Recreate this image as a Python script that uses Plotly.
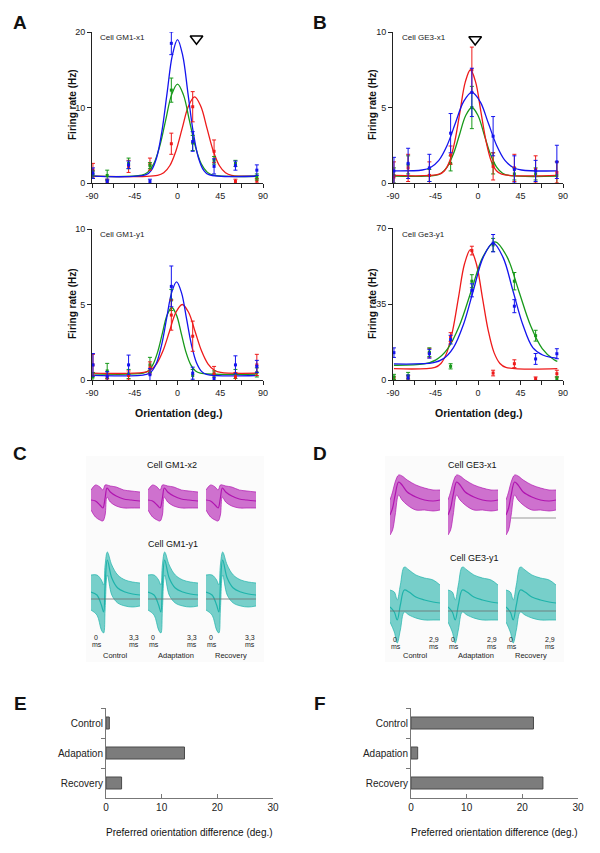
import plotly.graph_objects as go

# the page body keeps an 8 px margin, so the figure is drawn 8 px smaller
OFFSET = 8
W, H = 600 - OFFSET, 853 - OFFSET
FONT = "Liberation Sans, Arial, Helvetica, sans-serif"

BLUE = "#1414ee"
GREEN = "#17991a"
RED = "#ee1a1a"
MAGENTA = "#b015b0"
TEAL = "#1fb3aa"

# ---- orientation tuning: data points (deg., Hz) ----
ORIENT = [-89, -74, -51.5, -29, -6.5, 16, 38.5, 61, 83.5]
ORIENT_TICKS = [-90, -45, 0, 45, 90]

# Cell GM1-x1
gm1x1_blue = [1.3, 0.2, 2.4, 0.2, 18.5, 5.5, 2.2, 2.3, 1.7]
gm1x1_blue_err = [0.7, 0.3, 0.5, 0.3, 1.5, 1.3, 1.0, 0.6, 0.7]
gm1x1_green = [1.1, 1.0, 2.6, 2.3, 12.3, 5.3, 3.0, 2.6, 0.8]
gm1x1_green_err = [0.5, 0.7, 0.7, 0.4, 1.6, 1.0, 0.5, 0.4, 0.4]
gm1x1_red = [1.7, 0.2, 2.2, 2.5, 5.2, 10.1, 4.2, 0.2, 0.3]
gm1x1_red_err = [0.9, 0.3, 0.8, 0.8, 1.4, 2.0, 1.5, 0.3, 0.3]

# Cell GM1-y1
gm1y1_blue = [1.0, 0.25, 1.0, 0.35, 6.2, 0.45, 0.1, 1.0, 0.9]
gm1y1_blue_err = [0.75, 0.3, 0.65, 0.4, 1.35, 0.4, 0.2, 0.6, 0.4]
gm1y1_green = [0.2, 0.6, 0.4, 1.0, 5.3, 0.3, 0.4, 0.4, 0.5]
gm1y1_green_err = [0.3, 0.5, 0.3, 0.5, 0.7, 0.4, 0.2, 0.3, 0.3]
gm1y1_red = [1.0, 0.2, 0.3, 0.8, 4.3, 2.9, 0.4, 0.2, 1.0]
gm1y1_red_err = [0.7, 0.2, 0.3, 0.4, 1.0, 1.0, 0.5, 0.3, 0.7]

# Cell GE3-x1
ge3x1_blue = [0.8, 1.3, 1.0, 3.3, 6.0, 3.1, 0.9, 0.8, 1.4]
ge3x1_blue_err = [0.9, 1.0, 0.9, 1.3, 1.6, 1.3, 0.9, 0.7, 1.1]
ge3x1_green = [0.5, 1.2, 0.5, 1.3, 5.0, 1.3, 0.6, 0.6, 0.5]
ge3x1_green_err = [0.5, 0.6, 0.4, 0.5, 1.4, 0.7, 0.4, 0.4, 0.9]
ge3x1_red = [0.4, 1.0, 0.5, 1.85, 7.5, 1.1, 1.0, 0.9, 0.7]
ge3x1_red_err = [1.0, 0.9, 0.9, 0.6, 1.5, 0.9, 0.9, 0.9, 0.7]

# Cell Ge3-y1
ge3y1_blue = [12.6, 1.0, 12.1, 18.6, 41.3, 63.0, 34.0, 9.7, 12.1]
ge3y1_blue_err = [2.2, 1.3, 2.0, 2.0, 3.0, 4.0, 3.0, 2.5, 2.3]
ge3y1_green = [1.4, 2.0, 12.8, 6.3, 45.5, 62.2, 45.5, 20.4, 0.5]
ge3y1_green_err = [1.2, 1.5, 2.0, 1.2, 3.0, 3.0, 4.0, 2.5, 1.0]
ge3y1_red = [0.5, 1.0, 12.4, 19.8, 59.6, 3.2, 7.5, 0.6, 2.9]
ge3y1_red_err = [1.0, 1.0, 2.2, 2.0, 2.0, 1.3, 1.8, 0.8, 1.6]

# ---- fitted tuning curves, sampled off the figure ----
gm1x1_blue_fit_x = [-89, -33, -27.5, -22, -16.5, -11, -5.5, 0, 5.5, 11, 16.5, 22, 27.5, 33, 84]
gm1x1_blue_fit_y = [0.9, 1.1, 1.69, 3.35, 6.78, 11.88, 16.87, 19.0, 16.87, 11.88, 6.78, 3.35, 1.69, 1.1, 0.9]
gm1x1_green_fit_x = [-89, -37.5, -31.25, -25, -18.75, -12.5, -6.25, 0, 6.25, 12.5, 18.75, 25, 31.25, 37.5, 84]
gm1x1_green_fit_y = [0.9, 1.04, 1.44, 2.55, 4.86, 8.3, 11.67, 13.1, 11.67, 8.3, 4.86, 2.55, 1.44, 1.04, 0.9]
gm1x1_red_fit_x = [-89, -21, -14.5, -8, -1.5, 5, 11.5, 18, 24.5, 31, 37.5, 44, 50.5, 57, 84]
gm1x1_red_fit_y = [0.9, 1.02, 1.36, 2.32, 4.31, 7.27, 10.17, 11.4, 10.17, 7.27, 4.31, 2.32, 1.36, 1.02, 0.9]

gm1y1_blue_fit_x = [-89, -32.5, -27.25, -22, -16.75, -11.5, -6.25, -1, 4.25, 9.5, 14.75, 20, 25.25, 30.5, 84]
gm1y1_blue_fit_y = [0.3, 0.37, 0.57, 1.14, 2.31, 4.06, 5.77, 6.5, 5.77, 4.06, 2.31, 1.14, 0.57, 0.37, 0.3]
gm1y1_green_fit_x = [-89, -36, -31, -26, -21, -16, -11, -6, -1, 4, 9, 14, 19, 24, 84]
gm1y1_green_fit_y = [0.4, 0.45, 0.59, 1.0, 1.83, 3.07, 4.28, 4.8, 4.28, 3.07, 1.83, 1.0, 0.59, 0.45, 0.4]
gm1y1_red_fit_x = [-89, -35.5, -28.75, -22, -15.25, -8.5, -1.75, 5, 11.75, 18.5, 25.25, 32, 38.75, 45.5, 84]
gm1y1_red_fit_y = [0.45, 0.5, 0.65, 1.07, 1.93, 3.21, 4.47, 5.0, 4.47, 3.21, 1.93, 1.07, 0.65, 0.5, 0.45]

ge3x1_blue_fit_x = [-89, -59, -50.25, -41.5, -32.75, -24, -15.25, -6.5, 2.25, 11, 19.75, 28.5, 37.25, 46, 84]
ge3x1_blue_fit_y = [0.8, 0.86, 1.03, 1.5, 2.49, 3.95, 5.39, 6.0, 5.39, 3.95, 2.49, 1.5, 1.03, 0.86, 0.8]
ge3x1_green_fit_x = [-89, -45.5, -39, -32.5, -26, -19.5, -13, -6.5, 0, 6.5, 13, 19.5, 26, 32.5, 84]
ge3x1_green_fit_y = [0.45, 0.5, 0.65, 1.07, 1.93, 3.21, 4.47, 5.0, 4.47, 3.21, 1.93, 1.07, 0.65, 0.5, 0.45]
ge3x1_red_fit_x = [-89, -41, -35.5, -30, -24.5, -19, -13.5, -8, -2.5, 3, 8.5, 14, 19.5, 25, 84]
ge3x1_red_fit_y = [0.5, 0.58, 0.81, 1.45, 2.77, 4.75, 6.68, 7.5, 6.68, 4.75, 2.77, 1.45, 0.81, 0.58, 0.5]

ge3y1_blue_fit_x = [-89, -47, -36.5, -26, -15.5, -5, 5.5, 16, 26.5, 37, 47.5, 58, 68.5, 79, 84]
ge3y1_blue_fit_y = [7.4, 8.02, 9.84, 14.92, 25.45, 41.12, 56.47, 63.0, 56.47, 41.12, 25.45, 14.92, 11.5, 10.3, 10.0]
ge3y1_green_fit_x = [-89, -57, -44.5, -32, -19.5, -7, 5.5, 18, 30.5, 43, 55.5, 68, 80.5, 84]
ge3y1_green_fit_y = [6.8, 7.43, 9.29, 14.49, 25.24, 41.25, 56.93, 63.6, 56.93, 41.25, 25.24, 14.49, 9.29, 8.56]
ge3y1_red_fit_x = [-89, -45.5, -39.25, -33, -26.75, -20.5, -14.25, -8, -1.75, 4.5, 10.75, 17, 23.25, 29.5, 84]
ge3y1_red_fit_y = [5.2, 5.81, 7.61, 12.61, 22.99, 38.44, 53.56, 60.0, 53.56, 38.44, 22.99, 12.61, 7.61, 5.81, 5.2]

# adapter orientation markers (deg., Hz)
gm1x1_adapter = (20, 19.1)
ge3x1_adapter = (-3, 9.5)

# ---- spike waveforms (time in ms, amplitude in a.u.) ----
CONDITIONS = ["Control", "Adaptation", "Recovery"]

gm1x2_t = [0, 0.3, 0.6, 0.8, 0.95, 1.08, 1.3, 1.7, 2.2, 2.7, 3.3]
gm1x2_upper = [11, 16, 14, 11, 16, 16, 15, 14, 11, 10, 9]
gm1x2_mean = [1, 0, -4, -7, 3, 13, 9, 5, 2, 1, 0]
gm1x2_lower = [-9, -16, -19, -20, -14, 4, -1, -5, -7, -7, -7]

gm1y1_t = [0, 0.4, 0.7, 0.85, 0.95, 1.1, 1.4, 1.8, 2.3, 2.8, 3.3]
gm1y1_upper = [24, 24, 19, 14, 34, 47, 34, 24, 19, 17, 16]
gm1y1_mean = [7, 4, -6, -13, 14, 39, 21, 11, 7, 5, 4]
gm1y1_lower = [-11, -16, -31, -34, -11, 24, 4, -4, -7, -8, -7]

ge3x1_t = [0, 0.15, 0.3, 0.5, 0.7, 1.0, 1.5, 2.0, 2.5, 2.9]
ge3x1_upper = [5, 13, 23, 30, 29, 25, 20, 17, 15, 15]
ge3x1_mean = [-10, -3, 10, 23, 20, 13, 8, 5, 4, 5]
ge3x1_lower = [-30, -25, -10, 10, 5, 0, -5, -5, -6, -5]

ge3y1_t = [0, 0.25, 0.42, 0.6, 0.83, 1.1, 1.5, 2.0, 2.5, 2.9]
ge3y1_upper = [21, 19, 11, 26, 44, 41, 36, 33, 31, 26]
ge3y1_mean = [4, -1, -9, 6, 21, 19, 14, 11, 9, 8]
ge3y1_lower = [-11, -21, -32, -19, -1, -4, -7, -9, -9, -9]

# ---- preferred orientation difference (deg.) ----
BAR_CATS = ["Control", "Adapation", "Recovery"]
gm1_pref_diff = [0.6, 14.1, 2.8]
ge3_pref_diff = [22.0, 1.2, 23.7]


def fx(p):
    return (p - OFFSET) / W


def fy(p):
    return 1 - (p - OFFSET) / H


fig = go.Figure()

tuning_panels = [
    # axis id, points, fits, x px, y px, y range, y ticks
    (1, [(gm1x1_red, gm1x1_red_err, RED), (gm1x1_green, gm1x1_green_err, GREEN), (gm1x1_blue, gm1x1_blue_err, BLUE)],
     [(gm1x1_red_fit_x, gm1x1_red_fit_y, RED), (gm1x1_green_fit_x, gm1x1_green_fit_y, GREEN), (gm1x1_blue_fit_x, gm1x1_blue_fit_y, BLUE)],
     (92, 263), (32, 183), 20, [0, 10, 20]),
    (2, [(ge3x1_green, ge3x1_green_err, GREEN), (ge3x1_red, ge3x1_red_err, RED), (ge3x1_blue, ge3x1_blue_err, BLUE)],
     [(ge3x1_green_fit_x, ge3x1_green_fit_y, GREEN), (ge3x1_red_fit_x, ge3x1_red_fit_y, RED), (ge3x1_blue_fit_x, ge3x1_blue_fit_y, BLUE)],
     (393, 563), (32, 183), 10, [0, 5, 10]),
    (3, [(gm1y1_green, gm1y1_green_err, GREEN), (gm1y1_red, gm1y1_red_err, RED), (gm1y1_blue, gm1y1_blue_err, BLUE)],
     [(gm1y1_green_fit_x, gm1y1_green_fit_y, GREEN), (gm1y1_red_fit_x, gm1y1_red_fit_y, RED), (gm1y1_blue_fit_x, gm1y1_blue_fit_y, BLUE)],
     (92, 263), (229, 380), 10, [0, 5, 10]),
    (4, [(ge3y1_red, ge3y1_red_err, RED), (ge3y1_green, ge3y1_green_err, GREEN), (ge3y1_blue, ge3y1_blue_err, BLUE)],
     [(ge3y1_red_fit_x, ge3y1_red_fit_y, RED), (ge3y1_green_fit_x, ge3y1_green_fit_y, GREEN), (ge3y1_blue_fit_x, ge3y1_blue_fit_y, BLUE)],
     (393, 563), (228, 380), 70, [0, 35, 70]),
]

layout_axes = {}
for n, points, fits, xpx, ypx, ymax, yticks in tuning_panels:
    suffix = "" if n == 1 else str(n)
    for fx_, fy_, col in fits:
        fig.add_trace(go.Scatter(
            x=fx_, y=fy_, mode="lines", line=dict(color=col, width=1.3, shape="spline", smoothing=1.0),
            xaxis=f"x{suffix}", yaxis=f"y{suffix}", showlegend=False, hoverinfo="skip",
        ))
    for vals, errs, col in points:
        fig.add_trace(go.Scatter(
            x=ORIENT, y=vals, mode="markers",
            marker=dict(color=col, size=3, symbol="square"),
            error_y=dict(type="data", array=errs, color=col, thickness=1, width=2),
            xaxis=f"x{suffix}", yaxis=f"y{suffix}", showlegend=False,
        ))
    layout_axes[f"xaxis{suffix}"] = dict(
        domain=[fx(xpx[0]), fx(xpx[1])], anchor=f"y{suffix}", range=[-90, 90], automargin=False,
        tickvals=ORIENT_TICKS, ticktext=[str(v) for v in ORIENT_TICKS],
        ticks="outside", ticklen=4, tickwidth=1, tickcolor="#222",
        minor=dict(tickvals=[-67.5, -22.5, 22.5, 67.5], ticks="outside", ticklen=4, tickwidth=1, tickcolor="#222"),
        showline=True, linecolor="#222", linewidth=1, showgrid=False, zeroline=False,
        tickfont=dict(size=9, family=FONT, color="#222"),
    )
    layout_axes[f"yaxis{suffix}"] = dict(
        domain=[fy(ypx[1]), fy(ypx[0])], anchor=f"x{suffix}", range=[0, ymax], automargin=False,
        tickvals=yticks, ticks="outside", ticklen=4, tickwidth=1, tickcolor="#222",
        showline=True, linecolor="#222", linewidth=1, showgrid=False, zeroline=False,
        tickfont=dict(size=9, family=FONT, color="#222"),
    )

# adapter triangles
for (ax, ay), suffix in [(gm1x1_adapter, ""), (ge3x1_adapter, "2")]:
    fig.add_trace(go.Scatter(
        x=[ax], y=[ay], mode="markers", cliponaxis=False,
        marker=dict(symbol="triangle-down-open", size=11, color="black", line=dict(width=1.5, color="black")),
        xaxis=f"x{suffix}", yaxis=f"y{suffix}", showlegend=False,
    ))

# ---- bar panels E and F ----
for n, vals, xpx in [(5, gm1_pref_diff, (106, 273)), (6, ge3_pref_diff, (411, 578))]:
    fig.add_trace(go.Bar(
        y=BAR_CATS, x=vals, orientation="h", width=0.4,
        marker=dict(color="#7c7c7c", line=dict(color="#4a4a4a", width=1)),
        xaxis=f"x{n}", yaxis=f"y{n}", showlegend=False,
    ))
    layout_axes[f"xaxis{n}"] = dict(
        domain=[fx(xpx[0]), fx(xpx[1])], anchor=f"y{n}", range=[0, 30], automargin=False,
        tickvals=[0, 10, 20, 30], ticks="inside", ticklen=4, tickwidth=1,
        showline=True, linecolor="#777", linewidth=1, showgrid=False, zeroline=False,
        tickfont=dict(size=10, family=FONT, color="#222"), tickcolor="#777",
    )
    layout_axes[f"yaxis{n}"] = dict(
        domain=[fy(798), fy(708)], anchor=f"x{n}", range=[2.5, -0.5], type="category", automargin=False,
        ticks="outside", tickson="boundaries", ticklen=4, tickwidth=1, tickcolor="#777",
        showline=True, linecolor="#777", linewidth=1, showgrid=False, zeroline=False,
        tickfont=dict(size=10, family=FONT, color="#222"),
    )

# ---- waveform panels C and D ----
wave_rows = [
    # x axis ids, y axis id, time, upper, mean, lower, colour, y px, y range, baseline, panels with baseline
    ([7, 8, 9], 7, gm1x2_t, gm1x2_upper, gm1x2_mean, gm1x2_lower, MAGENTA, (480, 530), (-29, 21), None, []),
    ([7, 8, 9], 8, gm1y1_t, gm1y1_upper, gm1y1_mean, gm1y1_lower, TEAL, (548, 636), (-37, 51), 0, [0, 1, 2]),
    ([10, 11, 12], 9, ge3x1_t, ge3x1_upper, ge3x1_mean, ge3x1_lower, MAGENTA, (470, 540), (-35, 35), -13, [2]),
    ([10, 11, 12], 10, ge3y1_t, ge3y1_upper, ge3y1_mean, ge3y1_lower, TEAL, (562, 646), (-35, 49), 0, [0, 1, 2]),
]
wave_cols_px = {
    7: (91, 140), 8: (148, 198), 9: (206, 256),
    10: (390, 440), 11: (448, 498), 12: (506, 556),
}
fill_rgba = {MAGENTA: "rgba(176,21,176,0.6)", TEAL: "rgba(31,179,170,0.6)"}

for xids, yid, t, up, mean, low, col, ypx, yr, base, base_cols in wave_rows:
    for k, xid in enumerate(xids):
        common = dict(xaxis=f"x{xid}", yaxis=f"y{yid}", showlegend=False, hoverinfo="skip")
        if base is not None and k in base_cols and yid == 9:
            fig.add_trace(go.Scatter(x=[t[2], t[-1]], y=[base, base], mode="lines",
                                     line=dict(color="#999", width=1), **common))
        fig.add_trace(go.Scatter(x=t, y=low, mode="lines",
                                 line=dict(color=col, width=0.7, shape="spline"), **common))
        fig.add_trace(go.Scatter(x=t, y=up, mode="lines", fill="tonexty", fillcolor=fill_rgba[col],
                                 line=dict(color=col, width=0.7, shape="spline"), **common))
        fig.add_trace(go.Scatter(x=t, y=mean, mode="lines",
                                 line=dict(color=col, width=1.2, shape="spline"), **common))
        if base is not None and k in base_cols and yid != 9:
            fig.add_trace(go.Scatter(x=[t[0], t[-1]], y=[base, base], mode="lines",
                                     line=dict(color="rgba(110,110,110,0.8)", width=1), **common))
    for xid in xids:
        xp = wave_cols_px[xid]
        layout_axes[f"xaxis{xid}"] = dict(domain=[fx(xp[0]), fx(xp[1])], range=[t[0], t[-1]],
                                          visible=False, anchor=f"y{yid}", automargin=False)
    layout_axes[f"yaxis{yid}"] = dict(domain=[fy(ypx[1]), fy(ypx[0])], range=list(yr),
                                      visible=False, anchor=f"x{xids[0]}", automargin=False)

# ---- annotations ----
ann = []


def add_text(text, x, y, size, bold=False, xanchor="center", yanchor="middle", angle=0, color="#111"):
    ann.append(dict(
        text=f"<b>{text}</b>" if bold else text, x=fx(x), y=fy(y), xref="paper", yref="paper",
        showarrow=False, xanchor=xanchor, yanchor=yanchor, textangle=angle,
        font=dict(size=size, family=FONT, color=color),
    ))


for letter, x, y in [("A", 20, 22), ("B", 320, 22), ("C", 20, 453), ("D", 320, 453), ("E", 20, 703), ("F", 320, 703)]:
    add_text(letter, x, y, 19, bold=True)

add_text("Cell GM1-x1", 98, 38, 8, xanchor="left", color="#222")
add_text("Cell GE3-x1", 400, 38, 8, xanchor="left", color="#222")
add_text("Cell GM1-y1", 98, 235, 8, xanchor="left", color="#222")
add_text("Cell Ge3-y1", 400, 235, 8, xanchor="left", color="#222")

for x in (72, 372):
    add_text("Firing rate (Hz)", x, 105, 10, bold=True, angle=-90)
    add_text("Firing rate (Hz)", x, 304, 10, bold=True, angle=-90)
add_text("Orientation (deg.)", 179, 413, 10.5, bold=True)
add_text("Orientation (deg.)", 479, 413, 10.5, bold=True)

add_text("Cell GM1-x2", 172, 465, 9)
add_text("Cell GM1-y1", 173, 544, 9)
add_text("Cell GE3-x1", 472, 465, 9)
add_text("Cell GE3-y1", 474, 558, 9)

for xids, t_end, y0 in [([7, 8, 9], gm1x2_t[-1], 637), ([10, 11, 12], ge3x1_t[-1], 639)]:
    end_lbl = f"{t_end:.1f}".replace(".", ",")
    for k, xid in enumerate(xids):
        xl, xr = wave_cols_px[xid]
        add_text("0", xl + 1, y0, 7, xanchor="left", color="#222")
        add_text("ms", xl - 1, y0 + 7, 7, xanchor="left", color="#222")
        add_text(end_lbl, xr + 1, y0, 7, xanchor="right", color="#222")
        add_text("ms", xr + 1, y0 + 7, 7, xanchor="right", color="#222")
        add_text(CONDITIONS[k], (xl + xr) / 2 + (3 if k == 1 else 0), 655, 7.5, color="#222")

add_text("Preferred orientation difference (deg.)", 189, 832, 10)
add_text("Preferred orientation difference (deg.)", 494, 832, 10)

fig.update_layout(
    template="none",
    width=W, height=H, margin=dict(l=0, r=0, t=0, b=0, pad=0),
    paper_bgcolor="white", plot_bgcolor="rgba(0,0,0,0)",
    font=dict(family=FONT, size=9, color="#111"),
    annotations=ann, showlegend=False,
    shapes=[
        dict(type="rect", xref="paper", yref="paper", x0=fx(86), x1=fx(264), y0=fy(662), y1=fy(456),
             fillcolor="#fbfbfb", line=dict(width=0), layer="below"),
        dict(type="rect", xref="paper", yref="paper", x0=fx(385), x1=fx(564), y0=fy(662), y1=fy(456),
             fillcolor="#fbfbfb", line=dict(width=0), layer="below"),
    ],
    **layout_axes,
)

fig.write_html("out.html")
